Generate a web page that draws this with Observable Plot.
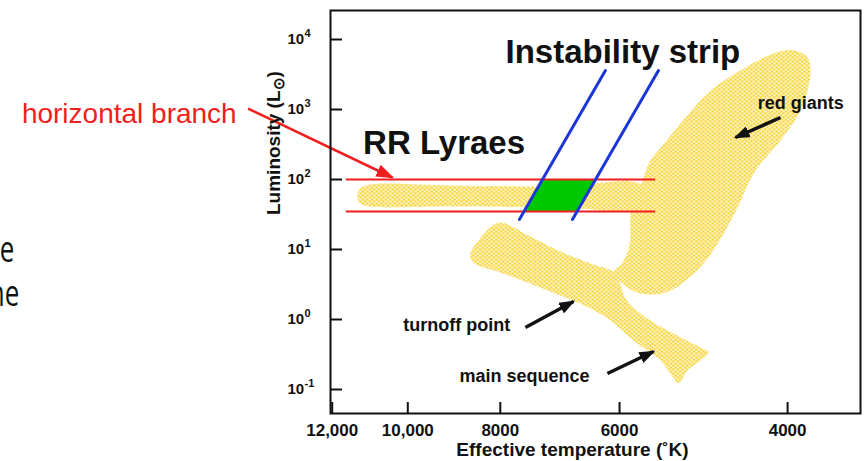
<!DOCTYPE html>
<html><head><meta charset="utf-8">
<script src="https://cdn.jsdelivr.net/npm/d3@7"></script>
<script src="https://cdn.jsdelivr.net/npm/@observablehq/plot@0.6"></script>
<style>
html,body{margin:0;padding:0;background:#fff;}
#wrap{position:relative;width:865px;height:461px;overflow:hidden;background:#fff;}
#wrap svg{position:absolute;left:0;top:0;display:block;}
.frag{position:absolute;z-index:2;font-family:"Open Sans",sans-serif;font-size:36px;line-height:24px;color:#111;white-space:nowrap;transform:scaleX(0.72);transform-origin:right center;}
</style></head>
<body>
<div id="wrap"><div class="frag" style="right:851px;top:237px">e</div><div class="frag" style="right:846px;top:281px">ne</div></div>
<script>
// ---- axis ticks ----
const tempTicks = [12000, 10000, 8000, 6000, 4000];
const tempTickLabels = ["12,000", "10,000", "8000", "6000", "4000"];
const lumTicks = [1e4, 1e3, 1e2, 1e1, 1e0, 1e-1];
const lumTickExponents = ["4", "3", "2", "1", "0", "-1"];

// ---- stippled regions (outline vertices: temperature K, luminosity Lsun) ----
const hbTemp = [11300, 11220, 10950, 9025, 6920, 5705, 5705, 6920, 9025, 10950, 11220];
const hbLum  = [59.1, 74.4, 84.8, 82, 79.4, 84.8, 39.8, 39.8, 41.1, 41.1, 45.4];

const giantTemp = [6089, 5958, 5858, 5844, 5816, 5705, 5569, 5410, 5179, 4817, 4481, 4139, 3943, 3812, 3785, 3877, 4069, 4322, 4503, 4680, 4852, 5081, 5370, 5705, 5958];
const giantLum  = [4.69, 6.52, 11.4, 32.7, 50.1, 82, 187, 306, 631, 1870, 3610, 6310, 7000, 5530, 3270, 968, 361, 134, 42.5, 15.8, 7.44, 3.85, 2.43, 2.35, 3.27];

const msTemp = [8195, 8000, 7440, 6920, 6437, 6060, 5915, 5705, 5344, 4935, 4840, 4935, 5092, 5204, 5280, 5436, 5802, 6133, 6594, 7005, 7495, 8000, 8540, 8600, 8435];
const msLum  = [20.6, 24.3, 15.3, 9.36, 6.31, 4.54, 2.0, 1.22, 0.696, 0.398, 0.338, 0.260, 0.187, 0.122, 0.153, 0.260, 0.501, 0.968, 1.69, 2.35, 3.38, 4.69, 6.52, 8.77, 13.4];

// ---- instability strip & RR Lyrae box ----
const stripLum = [26.8, 3610];
const stripLeftTemp = [7640, 6208];
const stripRightTemp = [6722, 5462];
const rrTemp = [7237, 6367, 6648, 7555];
const rrLum = [100, 100, 35, 35];
const hbLineLum = [100, 35];
const hbLineTemp = [11600, 5500];

// ---- arrows [tailT, tailL, headT, headL] ----
const redArrow = [[14700, 1033, 10380, 106.8]];
const blackArrows = [
  [4069, 769, 4535, 398],
  [7530, 0.769, 6706, 1.81],
  [6178, 0.169, 5528, 0.349]
];

// ---- labels ----
const bigLabels = [["Instability strip", 7900, 4690], ["RR Lyraes", 11140, 228]];
const smallLabels = [["red giants", 4300, 1033], ["turnoff point", 10110, 0.696], ["main sequence", 8830, 0.130]];
const hbLabel = [["horizontal branch", 25370, 631]];
const xTitle = "Effective temperature (˚K)";
const yTitle = "Luminosity (L⊙)";

const RED = "#f01e1e", BLUE = "#1c36d8", GREEN = "#00c800", INK = "#111111";
const rows = (ts, ls) => ts.map((t, i) => ({t, l: ls[i]}));
const stripRows = [
  ...stripLeftTemp.map((t, i) => ({t, l: stripLum[i], s: "left"})),
  ...stripRightTemp.map((t, i) => ({t, l: stripLum[i], s: "right"}))
];
const lbl = (arr) => arr.map(([text, t, l]) => ({text, t, l}));
const arr = (a) => a.map(([t1, l1, t2, l2]) => ({t1, l1, t2, l2}));

const svg = Plot.plot({
  width: 865, height: 461,
  marginLeft: 330, marginRight: 5, marginTop: 10, marginBottom: 48,
  style: {fontFamily: "'Liberation Sans', Arial, sans-serif", background: "white", color: INK},
  x: {type: "log", domain: [12050, 3355], axis: null},
  y: {type: "log", domain: [0.0454, 25960], axis: null},
  marks: [
    Plot.line(rows(hbTemp, hbLum), {x: "t", y: "l", curve: "catmull-rom-closed", fill: "url(#stipple)", stroke: "none"}),
    Plot.line(rows(giantTemp, giantLum), {x: "t", y: "l", curve: "catmull-rom-closed", fill: "url(#stipple)", stroke: "none"}),
    Plot.line(rows(msTemp, msLum), {x: "t", y: "l", curve: "catmull-rom-closed", fill: "url(#stipple)", stroke: "none"}),
    Plot.line(rows(rrTemp, rrLum), {x: "t", y: "l", curve: "linear-closed", fill: GREEN, stroke: "none"}),
    Plot.ruleY(hbLineLum, {y: d => d, x1: hbLineTemp[0], x2: hbLineTemp[1], stroke: RED, strokeWidth: 2}),
    Plot.line(stripRows, {x: "t", y: "l", z: "s", stroke: BLUE, strokeWidth: 3}),
    Plot.link(arr(redArrow), {x1: "t1", y1: "l1", x2: "t2", y2: "l2", stroke: RED, strokeWidth: 2.5}),
    Plot.link(arr(blackArrows), {x1: "t1", y1: "l1", x2: "t2", y2: "l2", stroke: INK, strokeWidth: 3.5}),
    Plot.text(lbl(bigLabels), {x: "t", y: "l", text: "text", textAnchor: "start", lineAnchor: "bottom", fontSize: 33, fontWeight: "bold", fill: INK}),
    Plot.text(lbl(smallLabels), {x: "t", y: "l", text: "text", textAnchor: "start", lineAnchor: "bottom", fontSize: 18, fontWeight: "bold", fill: INK}),
    Plot.text(lbl(hbLabel), {x: "t", y: "l", text: "text", textAnchor: "start", lineAnchor: "bottom", fontSize: 28, fill: RED}),
    // axis ticks (inside the frame)
    Plot.tickY(lumTicks, {y: d => d, insetRight: 518, stroke: INK, strokeWidth: 2}),
    Plot.tickX(tempTicks, {x: d => d, insetTop: 392, stroke: INK, strokeWidth: 2}),
    // tick labels
    Plot.text(lumTicks, {y: d => d, text: () => "10", frameAnchor: "left", dx: -43, textAnchor: "start", fontSize: 15, fontWeight: "bold", fill: INK}),
    Plot.text(lumTicks, {y: d => d, text: (d, i) => lumTickExponents[i], frameAnchor: "left", dx: -26, dy: -6, textAnchor: "start", fontSize: 11, fontWeight: "bold", fill: INK}),
    Plot.text(tempTicks, {x: d => d, text: (d, i) => tempTickLabels[i], frameAnchor: "bottom", dy: 22, lineAnchor: "bottom", fontSize: 17, fontWeight: "bold", fill: INK}),
    // axis titles
    Plot.text([xTitle], {text: d => d, frameAnchor: "bottom", dx: -23, dy: 42, lineAnchor: "bottom", fontSize: 19, fontWeight: "bold", fill: INK}),
    Plot.text([yTitle], {text: d => d, frameAnchor: "left", dx: -57, dy: 3, rotate: -90, fontSize: 19, fontWeight: "bold", fill: INK}),
    Plot.frame({stroke: INK, strokeWidth: 2})
  ]
});

// pattern + filled arrowheads
const defs = document.createElementNS("http://www.w3.org/2000/svg", "defs");
defs.innerHTML = `
<pattern id="stipple" patternUnits="userSpaceOnUse" width="4.6" height="4">
  <rect width="4.6" height="4" fill="#fef5c8"/>
  <circle cx="1.15" cy="1" r="1.1" fill="#f6cc1c"/>
  <circle cx="3.45" cy="3" r="1.1" fill="#f6cc1c"/>
</pattern>
<marker id="headBlack" viewBox="0 0 16 12" refX="14" refY="6" markerWidth="16" markerHeight="12" markerUnits="userSpaceOnUse" orient="auto">
  <path d="M0,0L16,6L0,12z" fill="${INK}"/>
</marker>
<marker id="headRed" viewBox="0 0 18 13" refX="16" refY="6.5" markerWidth="18" markerHeight="13" markerUnits="userSpaceOnUse" orient="auto">
  <path d="M0,0L18,6.5L0,13z" fill="${RED}"/>
</marker>`;
svg.insertBefore(defs, svg.firstChild);
svg.querySelectorAll('g[aria-label="link"]').forEach(g => {
  const red = (g.getAttribute("stroke") || "").toLowerCase() === RED;
  g.querySelectorAll("path").forEach(p => p.setAttribute("marker-end", red ? "url(#headRed)" : "url(#headBlack)"));
});
// subscript sun symbol in y title
svg.querySelectorAll("text").forEach(t => {
  if (t.textContent === yTitle) {
    t.textContent = "";
    const ns = "http://www.w3.org/2000/svg";
    const a = document.createElementNS(ns, "tspan"); a.textContent = "Luminosity (L";
    const b = document.createElementNS(ns, "tspan"); b.textContent = "⊙"; b.setAttribute("dy", "4"); b.setAttribute("font-size", "15");
    const c = document.createElementNS(ns, "tspan"); c.textContent = ")"; c.setAttribute("dy", "-4");
    t.append(a, b, c);
  }
});
const wrap = document.getElementById("wrap");
wrap.insertBefore(svg, wrap.firstChild);
</script>
</body></html>
